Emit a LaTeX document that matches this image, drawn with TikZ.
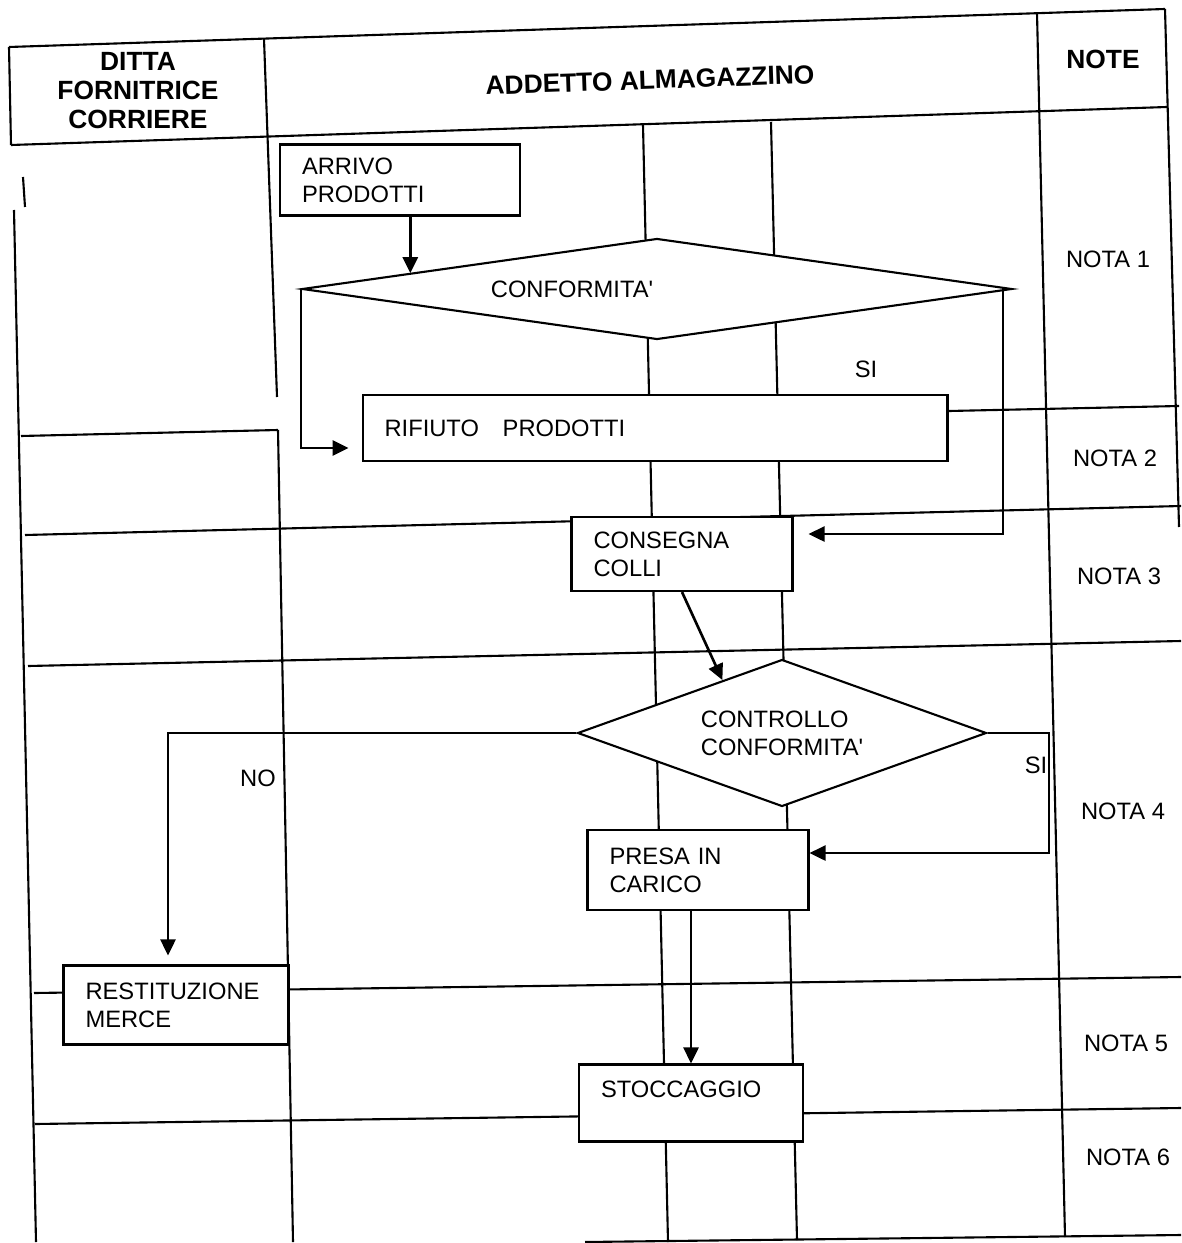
\documentclass[tikz,border=0pt]{standalone}
\usepackage{fontspec}
\setmainfont{Liberation Sans}
\usetikzlibrary{arrows.meta,calc,shapes.geometric}

\begin{document}
\begin{tikzpicture}[x=0.02cm, y=-0.02cm, line width=1.2pt,
        txt/.style={font=\fontsize{13.5}{15.9}\selectfont},
        hdr/.style={font=\fontsize{15}{16.5}\selectfont\bfseries, align=center},
        box/.style={txt, draw, fill=white, rectangle, align=left, inner xsep=0.44cm, inner ysep=0pt},
        dec/.style={txt, draw, fill=white, diamond, inner sep=0pt},
        arr/.style={line width=1.5pt, -{Triangle[length=0.32cm, width=0.3cm]}}]
    \useasboundingbox (0,0) rectangle (1181,1243);

    % table
    \draw (9,47) -- (1165,9);
    \draw (11,145) -- (1167,107);
    \draw (9,47) -- (11,145);
    \draw (264,39) -- (277,397);
    \draw (278,430) -- (293,1242);
    \draw (1037,13) -- (1065,1237);
    \draw (1165,9) -- (1179,527);
    \draw (23,177) -- (25,207);
    \draw (14,210) -- (36,1242);
    \draw (21,436) -- (278,430);
    \draw (949,411) -- (1179,406);
    \draw (25,535) -- (1181,506);
    \draw (28,666) -- (1181,641);
    \draw (34,993) -- (1181,977);
    \draw (35,1124) -- (1181,1108);
    \draw (585,1242) -- (1181,1235);

    % lanes
    \draw (643,125) -- (668,1242);
    \draw (771,122) -- (797,1240);

    \node[hdr] (ditta) at (138,91) {DITTA\\FORNITRICE\\CORRIERE};
    \node[hdr, rotate=2] (addetto) at (650,80) {ADDETTO ALMAGAZZINO};
    \node[hdr] (note) at (1103,59) {NOTE};

    \node[box, text width=3.92cm, minimum height=1.42cm] (arrivo) at (400,180) {ARRIVO\\PRODOTTI};
    \node[dec, minimum width=14.2cm, minimum height=2.02cm] (conf) at (657,289) {};
    \node[txt] (conftxt) at (572,289) {CONFORMITA\textquotesingle};
    \node[box, text width=10.82cm, minimum height=1.32cm] (rifiuto) at (655,428) {RIFIUTO\ \ \ PRODOTTI};
    \node[box, text width=3.54cm, minimum height=1.48cm] (consegna) at (682,554) {CONSEGNA\\COLLI};
    \node[dec, aspect=2.78, minimum width=8.18cm, minimum height=2.94cm, align=left] (controllo) at (782,733) {CONTROLLO\\CONFORMITA\textquotesingle};
    \node[box, text width=3.54cm, minimum height=1.6cm] (presa) at (698,870) {PRESA IN\\CARICO};
    \node[box, text width=3.62cm, minimum height=1.58cm] (restituzione) at (176,1005) {RESTITUZIONE\\MERCE};
    \node[box, text width=3.6cm, minimum height=1.54cm] (stoccaggio) at (691,1103) {STOCCAGGIO\\\mbox{}};

    \node[txt] (si1) at (866,369) {SI};
    \node[txt] (no) at (258,778) {NO};
    \node[txt] (si2) at (1036,765) {SI};

    \node[txt] (nota1) at (1108,259) {NOTA 1};
    \node[txt] (nota2) at (1115,458) {NOTA 2};
    \node[txt] (nota3) at (1119,576) {NOTA 3};
    \node[txt] (nota4) at (1123,811) {NOTA 4};
    \node[txt] (nota5) at (1126,1043) {NOTA 5};
    \node[txt] (nota6) at (1128,1157) {NOTA 6};

    \coordinate (confin) at ($(conf.west)!0.307!(conf.north)$);
    \coordinate (controlloin) at ($(controllo.west)!0.71!(controllo.north)$);
    \coordinate (siturn) at (1049,733);

    \draw[arr] (arrivo.south -| confin) -- (confin);
    \draw[arr] (conf.west) |- ([xshift=-0.26cm, yshift=-0.4cm]rifiuto.west);
    \draw[arr] ([xshift=-0.2cm]conf.east) |- ([xshift=0.3cm, yshift=0.4cm]consegna.east);
    \draw[arr] (consegna.south) -- (controlloin);
    \draw[arr] (controllo.west) -| ([xshift=-0.16cm, yshift=0.18cm]restituzione.north);
    \draw[arr] (controllo.east) -- (siturn) |- ([yshift=0.34cm]presa.east);
    \draw[arr] (presa.south -| stoccaggio.north) -- (stoccaggio.north);
\end{tikzpicture}
\end{document}
